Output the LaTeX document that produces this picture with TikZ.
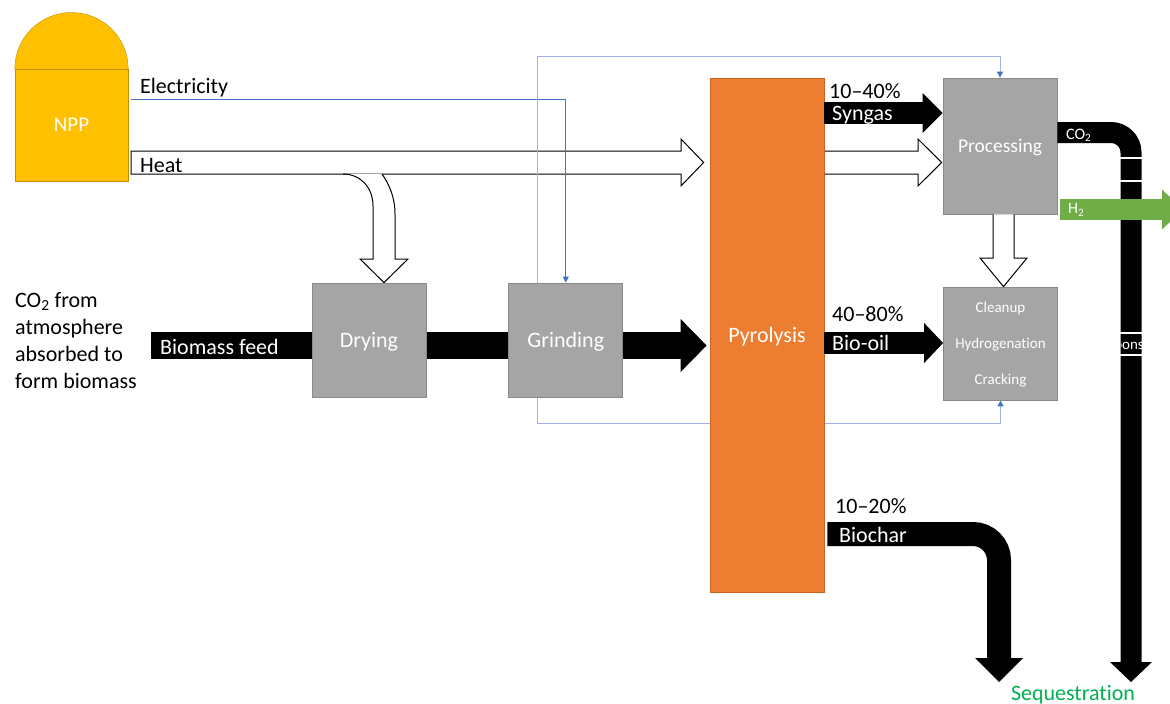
\documentclass[tikz,border=0pt]{standalone}
\usepackage{fontspec}
\setmainfont{Carlito}[Ligatures={TeX,NoCommon}]
\usetikzlibrary{arrows.meta,positioning,backgrounds}

\definecolor{nppgold}{HTML}{FFC000}
\definecolor{nppedge}{HTML}{C09000}
\definecolor{unitgray}{HTML}{A5A5A5}
\definecolor{unitedge}{HTML}{898989}
\definecolor{pyroorange}{HTML}{ED7D31}
\definecolor{pyroedge}{HTML}{C8641F}
\definecolor{elecblue}{HTML}{4472C4}
\definecolor{loopblue}{HTML}{9DB5E0}
\definecolor{h2green}{HTML}{70AD47}
\definecolor{seqgreen}{HTML}{00B050}

\begin{document}
\begin{tikzpicture}[
                    x=1pt, y=-1pt,
                    every node/.style={inner sep=0pt},
                    txt/.style={font=\fontsize{22}{27}\selectfont},
                    small/.style={font=\fontsize{15}{36}\selectfont},
                    plant/.style={
                        rectangle,
                        draw=nppedge,
                        fill=nppgold,
                        text=white,
                        minimum width=113pt,
                        minimum height=112pt,
                        font=\fontsize{21}{25}\selectfont
                    },
                    unit/.style={
                        rectangle,
                        draw=unitedge,
                        line width=0.8pt,
                        fill=unitgray,
                        text=white,
                        text depth=0pt,
                        minimum width=114pt,
                        minimum height=114pt,
                        txt
                    },
                    reactor/.style={unit, draw=pyroedge, fill=pyroorange, minimum height=514pt},
                    hollow/.style={draw=black, fill=white, line width=1pt, line join=miter},
                    flow/.style n args={4}{
                        draw=#4,
                        line width=#1,
                        -{Triangle[length=#2, width=#3, line width=0pt]}
                    },
                    signal/.style={draw=elecblue, line width=0.9pt},
                    loopline/.style={draw=loopblue, line width=1pt},
                    ctrltip/.tip={Triangle[length=6pt, width=6pt, color=elecblue]}
                ]
                \useasboundingbox (0,0) rectangle (1170,704);

                \node (npp) [plant] at (71.5,125) {NPP};
                \filldraw[draw=nppedge, fill=nppgold]
                    (npp.north west) .. controls +(0,-31.2) and +(-31.2,0) .. (71.5,12.5)
                    .. controls +(31.2,0) and +(0,-31.2) .. (npp.north east);

                \node (dry) [unit] at (369,340) {Drying};
                \node (grind) [unit, right=82pt of dry] {Grinding};
                \node (pyro) [reactor] at (767,335) {Pyrolysis};
                \node (proc) [unit, minimum height=136pt, font=\fontsize{19.5}{23}\selectfont] at (1000,146) {Processing};
                \node (clean) [unit, minimum height=113pt, small, align=center] at (1000.5,343.5)
                    {Cleanup\\Hydrogenation\\Cracking};

                \coordinate (feed) at (151,345.5);

                \begin{scope}[on background layer]
                    \filldraw[hollow]
                        ([xshift=3pt]npp.east |- 0,151) -- (681,151) -- (681,139)
                        -- ([xshift=-6pt]pyro.west |- 0,162.5) -- (681,186) -- (681,174)
                        -- ([xshift=3pt]npp.east |- 0,174) -- cycle;
                    \filldraw[hollow]
                        (pyro.east |- 0,151) -- (918,151) -- (918,139)
                        -- ([xshift=-1pt]proc.west |- 0,162.5) -- (918,186) -- (918,174)
                        -- (pyro.east |- 0,174);
                    \filldraw[hollow]
                        (343,174) .. controls (360,174) and (373,187) .. (373,206) -- (373,259)
                        -- (360,259) -- ([xshift=15pt]dry.north) -- (408,259) -- (395,259) -- (395,214)
                        .. controls (395,197) and (389,184) .. (382,174);

                    \draw[signal, -{Triangle[length=6pt, width=6pt]}]
                        ([xshift=3pt]npp.east |- 0,99) -| (grind.north);
                    \draw[loopline, {ctrltip}-{ctrltip}]
                        (proc.north) |- (537,56) -- (537,423) -| (clean.south);

                    \draw[flow={27pt}{26pt}{53pt}{black}] (feed) -- ([xshift=-3pt]pyro.west |- feed);
                \end{scope}

                \draw[flow={22pt}{20pt}{40pt}{black}] (pyro.east |- 0,113) -- (proc.west |- 0,113);
                \draw[flow={22pt}{19pt}{40pt}{black}] (pyro.east |- 0,343) -- (clean.west |- 0,343);
                \draw[flow={24pt}{24pt}{48pt}{black}, rounded corners=26pt]
                    ([xshift=3pt]pyro.east |- 0,534) -| (999,682);
                \draw[flow={21pt}{20pt}{42pt}{black}, rounded corners=20pt]
                    (proc.east |- 0,132.5) -| (1131,682);
                \draw[white, line width=1.2pt]
                    (1120,158) -- (1142,158) (1120,181) -- (1142,181)
                    (1120,333) -- (1142,333) (1120,355) -- (1142,355);
                \begin{scope}
                    \clip (1121,334) rectangle (1142,354);
                    \node (bons) [small, text=white, anchor=east] at (1144,344) {bons};
                \end{scope}
                \draw[flow={21pt}{21pt}{40pt}{h2green}] ([xshift=3pt]proc.east |- 0,209.5) -- (1183,209.5);

                \filldraw[hollow]
                    ([xshift=-7pt]proc.south) -- (993,258) -- (980,258) -- ([xshift=3pt]clean.north)
                    -- (1027,258) -- (1014,258) -- ([xshift=14pt]proc.south);

                \node (elec) [txt, anchor=base west] at (140,93) {Electricity};
                \node (heat) [txt, anchor=base west] at (140,172) {Heat};
                \node (feedlbl) [txt, text=white, anchor=base west] at (160,354) {Biomass feed};
                \node (atmo) [txt, align=left, anchor=north west] at (15,292)
                    {CO\textsubscript{2} from\\atmosphere\\absorbed to\\form biomass};
                \node (synpct) [txt, anchor=base west] at (829,98) {10--40\%};
                \node (syngas) [txt, text=white, anchor=base west] at (832,120) {Syngas};
                \node (oilpct) [txt, anchor=base west] at (832,321) {40--80\%};
                \node (oil) [txt, text=white, anchor=base west] at (832,350) {Bio-oil};
                \node (charpct) [txt, anchor=base west] at (835,513) {10--20\%};
                \node (char) [txt, text=white, anchor=base west] at (839,542) {Biochar};
                \node (co2) [small, font=\fontsize{16}{19}\selectfont, text=white, anchor=base west] at (1066,139) {CO\textsubscript{2}};
                \node (h2) [small, font=\fontsize{16}{19}\selectfont, text=white, anchor=base west] at (1068,213.5) {H\textsubscript{2}};
                \node (seq) [txt, text=seqgreen, anchor=base] at (1073,700) {Sequestration};
            \end{tikzpicture}
\end{document}
